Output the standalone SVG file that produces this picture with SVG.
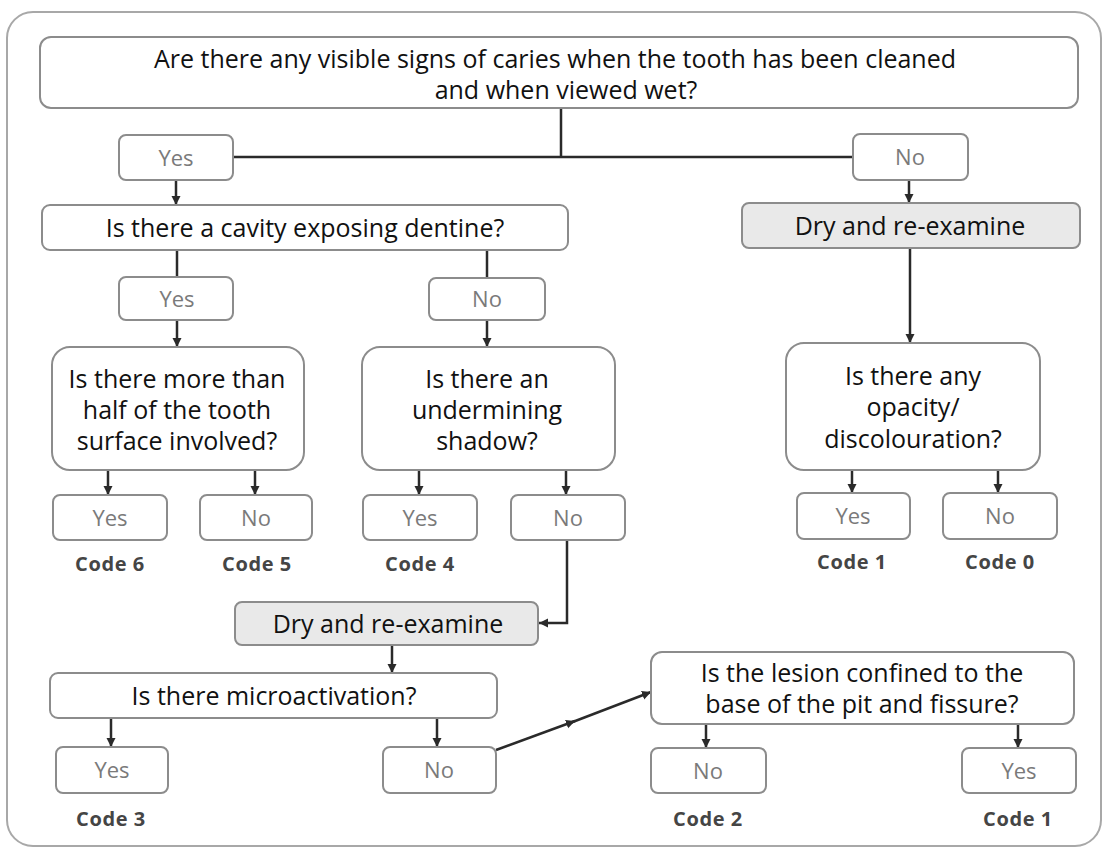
<svg xmlns="http://www.w3.org/2000/svg" width="1106" height="852" viewBox="0 0 1106 852">
<defs>
<marker id="ah" markerUnits="userSpaceOnUse" markerWidth="10" markerHeight="10" refX="9" refY="4.5" orient="auto">
<path d="M0,0 L9,4.5 L0,9 z" fill="#2a2a2a"/>
</marker>
<style>
.frame{fill:#fff;stroke:#a8a8a8;stroke-width:2}
.box{fill:#fff;stroke:#8c8c8c;stroke-width:2}
.dry{fill:#e9e9e9;stroke:#8c8c8c;stroke-width:2}
.q{font-family:"Open Sans","Noto Sans",sans-serif;font-size:25px;fill:#111;text-anchor:middle}
.yn{font-family:"Open Sans","Noto Sans",sans-serif;font-size:22px;fill:#7a7a7a;text-anchor:middle}
.code{font-family:"Open Sans","Noto Sans",sans-serif;font-size:20px;font-weight:bold;fill:#454545;text-anchor:middle;letter-spacing:0.6px}
.c{fill:none;stroke:#2a2a2a;stroke-width:2.5}
.ca{fill:none;stroke:#2a2a2a;stroke-width:2.5;marker-end:url(#ah)}
</style>
</defs>
<rect class="frame" x="7" y="12" width="1094" height="834" rx="26"/>

<g id="connectors">
<path class="c" d="M561,108 V157 M233,157 H853"/>
<path class="ca" d="M176,180 V205"/>
<path class="ca" d="M909,180 V203"/>
<path class="c" d="M177,250 V277"/>
<path class="ca" d="M177,320 V347"/>
<path class="c" d="M487,250 V278"/>
<path class="ca" d="M487,320 V347"/>
<path class="ca" d="M910,248 V343"/>
<path class="ca" d="M108,470 V495"/>
<path class="ca" d="M255,470 V495"/>
<path class="ca" d="M419,470 V495"/>
<path class="ca" d="M566,470 V495"/>
<path class="ca" d="M852,470 V493"/>
<path class="ca" d="M998,470 V493"/>
<path class="ca" d="M567,540 V623 H539"/>
<path class="ca" d="M392,645 V673"/>
<path class="ca" d="M111,718 V747"/>
<path class="ca" d="M437,718 V747"/>
<path class="ca" d="M496,750 L575,721"/>
<path class="ca" d="M570,723 L651,692"/>
<path class="ca" d="M706,724 V748"/>
<path class="ca" d="M1018,724 V748"/>
</g>

<g id="q-visible">
<rect class="box" x="40" y="37" width="1038" height="71" rx="11"/>
<text class="q" x="555" y="68">Are there any visible signs of caries when the tooth has been cleaned</text>
<text class="q" x="566" y="99">and when viewed wet?</text>
</g>
<g id="yes-top"><rect class="box" x="119" y="135" width="114" height="45" rx="7"/><text class="yn" x="176" y="166">Yes</text></g>
<g id="no-top"><rect class="box" x="853" y="134" width="115" height="46" rx="7"/><text class="yn" x="910" y="165">No</text></g>

<g id="q-cavity">
<rect class="box" x="42" y="205" width="526" height="45" rx="8"/>
<text class="q" x="305" y="237">Is there a cavity exposing dentine?</text>
</g>
<g id="dry-right">
<rect class="dry" x="742" y="203" width="338" height="45" rx="7"/>
<text class="q" x="910" y="235">Dry and re-examine</text>
</g>

<g id="yes-cavity"><rect class="box" x="119" y="277" width="114" height="43" rx="7"/><text class="yn" x="177" y="307">Yes</text></g>
<g id="no-cavity"><rect class="box" x="429" y="278" width="116" height="42" rx="7"/><text class="yn" x="487" y="307">No</text></g>

<g id="q-half">
<rect class="box" x="52" y="347" width="252" height="123" rx="18"/>
<text class="q" x="177" y="388">Is there more than</text>
<text class="q" x="177" y="419">half of the tooth</text>
<text class="q" x="177" y="450">surface involved?</text>
</g>
<g id="q-shadow">
<rect class="box" x="362" y="347" width="253" height="123" rx="18"/>
<text class="q" x="487" y="388">Is there an</text>
<text class="q" x="487" y="419">undermining</text>
<text class="q" x="487" y="450">shadow?</text>
</g>
<g id="q-opacity">
<rect class="box" x="786" y="343" width="254" height="127" rx="18"/>
<text class="q" x="913" y="385">Is there any</text>
<text class="q" x="913" y="416">opacity/</text>
<text class="q" x="913" y="448">discolouration?</text>
</g>

<g id="code6"><rect class="box" x="53" y="495" width="114" height="45" rx="7"/><text class="yn" x="110" y="526">Yes</text><text class="code" x="110" y="571">Code 6</text></g>
<g id="code5"><rect class="box" x="200" y="495" width="112" height="45" rx="7"/><text class="yn" x="256" y="526">No</text><text class="code" x="257" y="571">Code 5</text></g>
<g id="code4"><rect class="box" x="363" y="495" width="114" height="45" rx="7"/><text class="yn" x="420" y="526">Yes</text><text class="code" x="420" y="571">Code 4</text></g>
<g id="no-shadow"><rect class="box" x="511" y="495" width="114" height="45" rx="7"/><text class="yn" x="568" y="526">No</text></g>
<g id="code1a"><rect class="box" x="797" y="493" width="113" height="46" rx="7"/><text class="yn" x="853" y="524">Yes</text><text class="code" x="852" y="569">Code 1</text></g>
<g id="code0"><rect class="box" x="943" y="493" width="114" height="46" rx="7"/><text class="yn" x="1000" y="524">No</text><text class="code" x="1000" y="569">Code 0</text></g>

<g id="dry-lower">
<rect class="dry" x="235" y="602" width="303" height="43" rx="7"/>
<text class="q" x="388" y="633">Dry and re-examine</text>
</g>
<g id="q-micro">
<rect class="box" x="50" y="673" width="447" height="45" rx="8"/>
<text class="q" x="274" y="705">Is there microactivation?</text>
</g>
<g id="q-lesion">
<rect class="box" x="651" y="652" width="423" height="72" rx="11"/>
<text class="q" x="862" y="682">Is the lesion confined to the</text>
<text class="q" x="862" y="713">base of the pit and fissure?</text>
</g>

<g id="code3"><rect class="box" x="56" y="747" width="112" height="46" rx="7"/><text class="yn" x="112" y="778">Yes</text><text class="code" x="111" y="826">Code 3</text></g>
<g id="no-micro"><rect class="box" x="383" y="747" width="113" height="46" rx="7"/><text class="yn" x="439" y="778">No</text></g>
<g id="code2"><rect class="box" x="651" y="748" width="115" height="45" rx="7"/><text class="yn" x="708" y="779">No</text><text class="code" x="708" y="826">Code 2</text></g>
<g id="code1b"><rect class="box" x="962" y="748" width="114" height="45" rx="7"/><text class="yn" x="1019" y="779">Yes</text><text class="code" x="1018" y="826">Code 1</text></g>
</svg>
